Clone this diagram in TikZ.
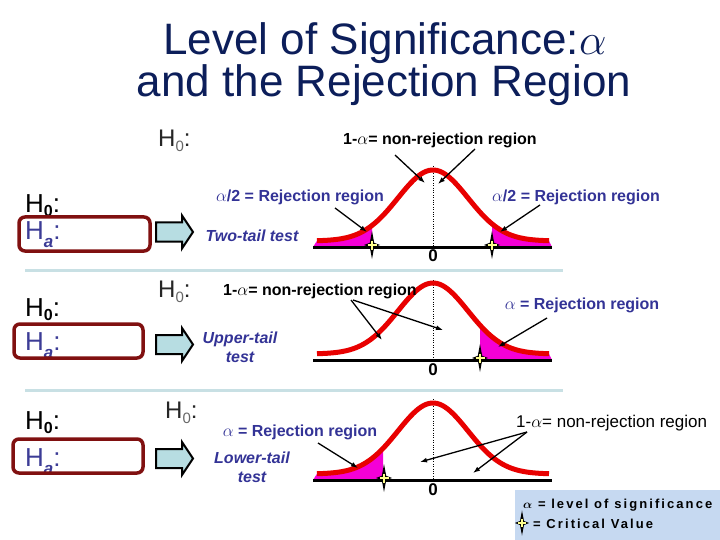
\documentclass[tikz,border=0pt]{standalone}
\usepackage{graphicx}
\usepackage{amsmath}
\usepackage{fontspec}
\setmainfont{Liberation Sans}
\newfontfamily\legfont[LetterSpace=16]{Liberation Sans}
\usetikzlibrary{arrows.meta}
\definecolor{titlec}{RGB}{12,30,90}
\definecolor{bluec}{RGB}{51,51,150}
\definecolor{hac}{RGB}{60,60,150}
\definecolor{boxred}{RGB}{128,16,16}
\definecolor{arrowc}{RGB}{183,221,226}
\definecolor{sepc}{RGB}{200,224,228}
\definecolor{curvered}{RGB}{232,0,0}
\definecolor{tailpink}{RGB}{244,0,214}
\definecolor{crityellow}{RGB}{255,255,140}
\definecolor{legc}{RGB}{198,217,241}
\newcommand\lowsub[3]{\raisebox{-#1}{\fontsize{#2}{#2}\selectfont #3}}
\begin{document}
\begin{tikzpicture}[x=1pt,y=-1pt,
  declare function={gs(\x)=6+71*exp(-((\x-433)^2)/2450);},
  titlet/.style={font=\fontsize{44}{46}\selectfont, text=titlec, inner sep=0},
  hyp/.style={font=\fontsize{26}{28}\selectfont, anchor=base west, inner sep=0},
  hyptop/.style={font=\fontsize{24}{26}\selectfont, anchor=base west, inner sep=0, text=black!85},
  lab/.style={font=\bfseries\fontsize{16}{19}\selectfont, text=bluec, inner sep=0},
  tst/.style={font=\bfseries\itshape\fontsize{16}{19}\selectfont, text=bluec, inner sep=0, align=center},
  blk/.style={font=\bfseries\fontsize{16}{19}\selectfont, inner sep=0, anchor=base west},
  zero/.style={font=\bfseries\fontsize{17}{18}\selectfont, inner sep=0},
  ptr/.style={-{Latex[length=7pt,width=5pt]}, line width=1.3pt},
  redbox/.style={draw=boxred, line width=3.5pt, rounded corners=6pt},
  sep/.style={draw=sepc, line width=3pt},
  bellc/.style={draw=curvered, line width=5pt},
  tail/.style={fill=tailpink},
  axisl/.style={line width=3pt},
  barrow/.pic={\draw[fill=arrowc, line width=2pt, line join=miter] (0,-9.5) -- (26,-9.5) -- (26,-16.5) -- (37,0) -- (26,16.5) -- (26,9.5) -- (0,9.5) -- cycle;},
  crit/.pic={\fill[black] (0,-14) -- (2.2,-2.2) -- (8,0) -- (2.2,2.2) -- (0,14) -- (-2.2,2.2) -- (-8,0) -- (-2.2,-2.2) -- cycle;
             \draw[crityellow, line width=1.6pt] (-4.5,0) -- (4.5,0) (0,-4.5) -- (0,4.5);}
]
\useasboundingbox (0,0) rectangle (720,540);

% title
\node[titlet, anchor=base] (t1) at (385,55) {Level of Significance:\scalebox{1.75}{$\alpha$}};
\node[titlet, anchor=base] (t2) at (384,97) {and the Rejection Region};

% separators
\draw[sep] (25,270) -- (563,270);
\draw[sep] (25,390) -- (563,390);

% ---------- panel 1 ----------
\fill[tail] (313,247) -- plot[domain=317:372, samples=30, smooth] (\x,{247-gs(\x)}) -- (372,247) -- cycle;
\fill[tail] (492,247) -- plot[domain=492:549, samples=30, smooth] (\x,{247-gs(\x)}) -- (552,247) -- cycle;
\draw[dotted] (433,166) -- (433,247);
\draw[bellc] plot[domain=317:549, samples=90, smooth] (\x,{247-gs(\x)});
\draw[axisl] (313,247) -- (552,247);
\pic at (372,245) {crit};
\pic at (492,245) {crit};
\node[zero] (z1) at (433,256) {0};

\node[hyptop] (p1top) at (158,147) {H\lowsub{5pt}{15}{\color{black!60}0}:};
\node[blk] (nr1) at (343,145) {1-$\alpha$= non-rejection region};
\node[hyp] (p1h0) at (25,212) {H\lowsub{4pt}{16}{\bfseries 0}:};
\node[hyp, text=hac] (p1ha) at (25,240) {H\lowsub{8pt}{17}{\bfseries\itshape a}:};
\draw[redbox] (19,217) rectangle (150,251);
\pic at (156,232) {barrow};
\node[tst] (tt1) at (252,236) {Two-tail test};
\node[lab] (rl1) at (300,197) {$\alpha$/2 = Rejection region};
\node[lab] (rr1) at (576,197) {$\alpha$/2 = Rejection region};
\coordinate (a1s) at (395,155); \coordinate (a1e) at (425,183);
\coordinate (a2s) at (475,149); \coordinate (a2e) at (438,184);
\coordinate (a3s) at (335,208); \coordinate (a3e) at (367,232);
\coordinate (a4s) at (540,205); \coordinate (a4e) at (500,232);
\draw[ptr] (a1s) -- (a1e);
\draw[ptr] (a2s) -- (a2e);
\draw[ptr] (a3s) -- (a3e);
\draw[ptr] (a4s) -- (a4e);

% ---------- panel 2 ----------
\fill[tail] (480,360) -- plot[domain=480:549, samples=30, smooth] (\x,{360-gs(\x)}) -- (552,360) -- cycle;
\draw[dotted] (433,280) -- (433,360);
\draw[bellc] plot[domain=317:549, samples=90, smooth] (\x,{360-gs(\x)});
\draw[axisl] (313,360) -- (552,360);
\pic at (480,358) {crit};
\node[zero] (z2) at (433,370) {0};

\node[hyptop] (p2top) at (158,297) {H\lowsub{5pt}{15}{\color{black!60}0}:};
\node[blk] (nr2) at (223,295) {1-$\alpha$= non-rejection region};
\node[hyp] (p2h0) at (25,316) {H\lowsub{4pt}{16}{\bfseries 0}:};
\node[hyp, text=hac] (p2ha) at (25,350) {H\lowsub{8pt}{17}{\bfseries\itshape a}:};
\draw[redbox] (14,324) rectangle (143,358);
\pic at (156,344.5) {barrow};
\node[tst] (tt2) at (240,347) {Upper-tail\\test};
\node[lab] (rr2) at (582,305) {$\alpha$ = Rejection region};
\coordinate (b1s) at (351,300); \coordinate (b1e) at (382,340);
\coordinate (b2s) at (353,300); \coordinate (b2e) at (443,330);
\coordinate (b3s) at (547,318); \coordinate (b3e) at (498,347);
\draw[ptr] (b1s) -- (b1e);
\draw[ptr] (b2s) -- (b2e);
\draw[ptr] (b3s) -- (b3e);

% ---------- panel 3 ----------
\fill[tail] (313,480) -- plot[domain=317:383, samples=30, smooth] (\x,{480-gs(\x)}) -- (383,480) -- cycle;
\draw[dotted] (433,399) -- (433,480);
\draw[bellc] plot[domain=317:549, samples=90, smooth] (\x,{480-gs(\x)});
\draw[axisl] (313,480) -- (552,480);
\pic at (384,478) {crit};
\node[zero] (z3) at (433,490) {0};

\node[hyptop] (p3top) at (165,418) {H\lowsub{5pt}{15}{\color{black!60}0}:};
\node[lab] (rl3) at (300,432) {$\alpha$ = Rejection region};
\node[font=\fontsize{17}{19}\selectfont, inner sep=0, anchor=base west] (nr3) at (516,427) {1-$\alpha$= non-rejection region};
\node[hyp] (p3h0) at (25,429) {H\lowsub{4pt}{16}{\bfseries 0}:};
\node[hyp, text=hac] (p3ha) at (25,466) {H\lowsub{8pt}{17}{\bfseries\itshape a}:};
\draw[redbox] (13,439) rectangle (143,473);
\pic at (156,458.5) {barrow};
\node[tst] (tt3) at (252,467) {Lower-tail\\test};
\coordinate (c1s) at (527,432); \coordinate (c1e) at (420,462);
\coordinate (c2s) at (527,432); \coordinate (c2e) at (473,473);
\coordinate (c3s) at (318,443); \coordinate (c3e) at (358,468);
\draw[ptr] (c1s) -- (c1e);
\draw[ptr] (c2s) -- (c2e);
\draw[ptr] (c3s) -- (c3e);

% ---------- legend ----------
\fill[legc] (515,490) rectangle (720,540);
\node[font=\legfont\bfseries\fontsize{13}{15}\selectfont, inner sep=0, anchor=base west] (leg1) at (523,508) {$\boldsymbol{\alpha}$ = level of significance};
\pic[scale=0.9] at (522,523) {crit};
\node[font=\legfont\bfseries\fontsize{13}{15}\selectfont, inner sep=0, anchor=base west] (leg2) at (533,528) {= Critical Value};
\end{tikzpicture}
\end{document}
